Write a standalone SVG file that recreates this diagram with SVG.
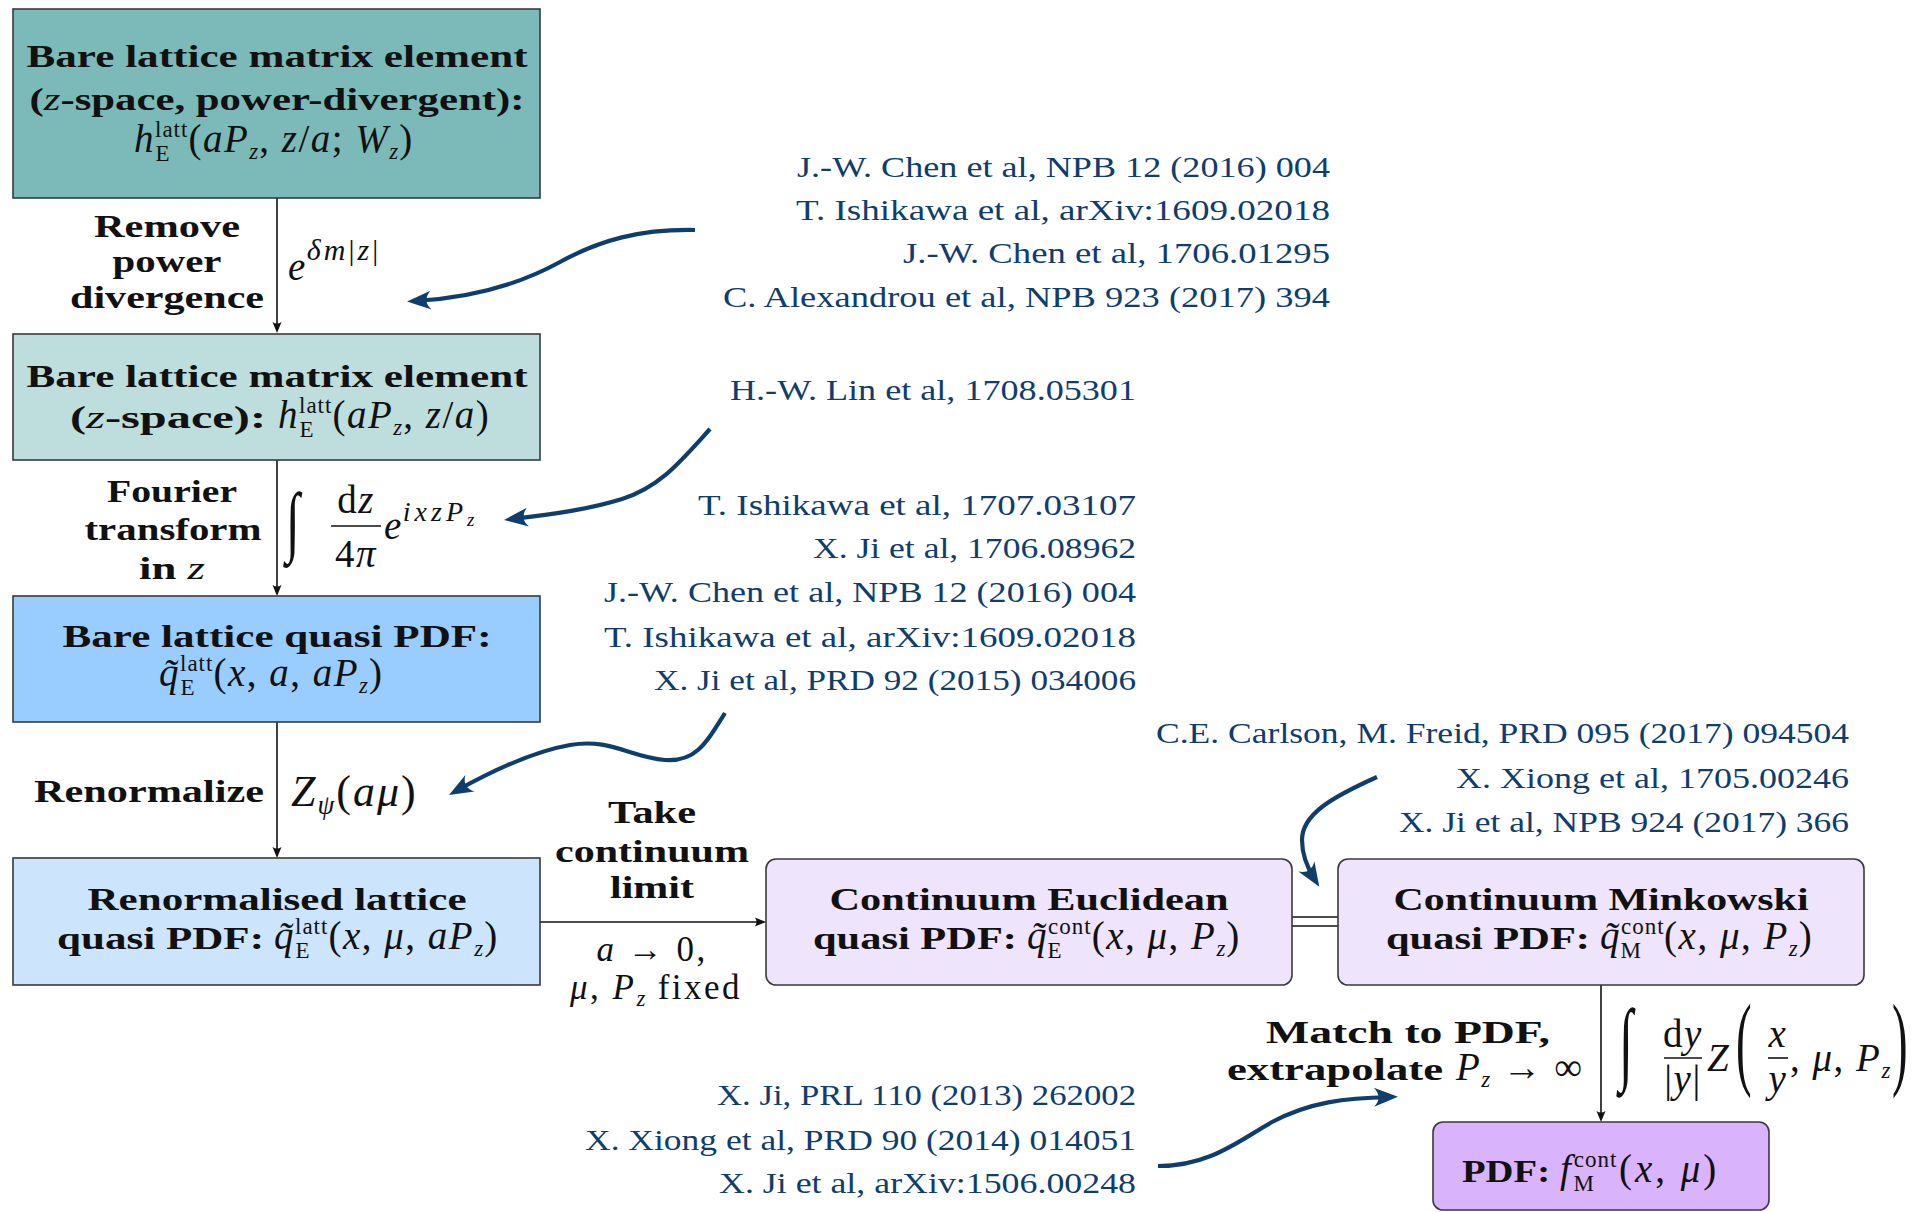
<svg xmlns="http://www.w3.org/2000/svg" width="1915" height="1212" viewBox="0 0 1915 1212">
<style>
  .bx { stroke: #3a3a3a; stroke-width: 1.6; }
  .t { font-family: "Liberation Serif", serif; font-weight: bold; font-size: 32px; fill: #111; }
  .m { font-family: "Liberation Serif", serif; font-size: 39px; fill: #111; letter-spacing: 1.5px; }
  .ml { font-family: "Liberation Serif", serif; font-size: 35px; fill: #111; letter-spacing: 2.5px; }
  .i { font-style: italic; }
  .n { font-weight: normal; font-style: italic; }
  .s { font-size: 23px; letter-spacing: 1px; }
  .ref { font-family: "Liberation Serif", serif; font-size: 30px; fill: #0f3d6c; text-anchor: end; }
  .cv { fill: none; stroke: #0f3d6c; stroke-width: 4.2; marker-end: url(#bh); }
  .ln { stroke: #111; stroke-width: 1.6; fill: none; }
  .ar { marker-end: url(#ah); }
</style>
<defs>
  <marker id="ah" markerUnits="userSpaceOnUse" viewBox="-12 -6 13 12" markerWidth="13" markerHeight="12" refX="-3" refY="0" orient="auto">
    <path d="M0,0 L-11,-4.5 Q-8,0 -11,4.5 Z" fill="#111"/>
  </marker>
  <marker id="bh" markerUnits="userSpaceOnUse" viewBox="-26 -11 27 22" markerWidth="27" markerHeight="22" refX="-8" refY="0" orient="auto">
    <path d="M0,0 L-24,-9.5 Q-15,0 -24,9.5 Z" fill="#0f3d6c"/>
  </marker>
</defs>

<!-- flow connectors -->
<g id="connectors">
  <line class="ln ar" x1="277" y1="198" x2="277" y2="330"/>
  <line class="ln ar" x1="277" y1="460" x2="277" y2="593"/>
  <line class="ln ar" x1="277" y1="722" x2="277" y2="855"/>
  <line class="ln ar" x1="540" y1="922" x2="763" y2="922"/>
  <line class="ln" x1="1292" y1="917" x2="1338" y2="917"/>
  <line class="ln" x1="1292" y1="926" x2="1338" y2="926"/>
  <line class="ln ar" x1="1601" y1="985" x2="1601" y2="1119"/>
</g>

<!-- citation pointers -->
<g id="ref-arrows">
  <path class="cv" d="M695,230 C640,229 600,240 560,262 C520,284 470,298 415,301"/>
  <path class="cv" d="M710,429 C680,462 660,487 622,499 C590,509 555,514 512,519"/>
  <path class="cv" d="M725,713 C705,745 695,762 665,760 C630,757 610,738 570,745 C530,752 490,772 456,791"/>
  <path class="cv" d="M1377,777 C1330,798 1302,815 1302,840 C1302,857 1308,869 1315,880"/>
  <path class="cv" d="M1158,1166 C1210,1166 1240,1140 1272,1122 C1310,1102 1345,1098 1390,1097"/>
</g>

<g id="bare-me-divergent">
  <rect class="bx" x="13" y="9" width="527" height="189" fill="#7bbab8"/>
  <text class="t" x="277" y="67" text-anchor="middle" textLength="501" lengthAdjust="spacingAndGlyphs">Bare lattice matrix element</text>
  <text class="t" x="277" y="110" text-anchor="middle" textLength="495" lengthAdjust="spacingAndGlyphs">(<tspan class="n">z</tspan>-space, power-divergent):</text>
  <text class="m" x="134" y="152"><tspan class="i">h</tspan><tspan class="s" dy="-15">latt</tspan><tspan class="s" dx="-33" dy="24">E</tspan><tspan dx="18" dy="-9">(</tspan><tspan class="i">aP</tspan><tspan class="s i" dy="7">z</tspan><tspan dy="-7">, </tspan><tspan class="i">z</tspan>/<tspan class="i">a</tspan>; <tspan class="i">W</tspan><tspan class="s i" dy="7">z</tspan><tspan dy="-7">)</tspan></text>
</g>

<g id="bare-me">
  <rect class="bx" x="13" y="334" width="527" height="126" fill="#bddedc"/>
  <text class="t" x="277" y="387" text-anchor="middle" textLength="501" lengthAdjust="spacingAndGlyphs">Bare lattice matrix element</text>
  <text class="t" x="70" y="428" textLength="196" lengthAdjust="spacingAndGlyphs">(<tspan class="n">z</tspan>-space):</text>
  <text class="m" x="278" y="428"><tspan class="i">h</tspan><tspan class="s" dy="-15">latt</tspan><tspan class="s" dx="-33" dy="24">E</tspan><tspan dx="18" dy="-9">(</tspan><tspan class="i">aP</tspan><tspan class="s i" dy="7">z</tspan><tspan dy="-7">, </tspan><tspan class="i">z</tspan>/<tspan class="i">a</tspan>)</text>
</g>

<g id="bare-quasi">
  <rect class="bx" x="13" y="596" width="527" height="126" fill="#99ccff"/>
  <text class="t" x="277" y="647" text-anchor="middle" textLength="429" lengthAdjust="spacingAndGlyphs">Bare lattice quasi PDF:</text>
  <text class="m" x="159" y="686"><tspan class="i">q̃</tspan><tspan class="s" dy="-15">latt</tspan><tspan class="s" dx="-33" dy="24">E</tspan><tspan dx="18" dy="-9">(</tspan><tspan class="i">x</tspan>, <tspan class="i">a</tspan>, <tspan class="i">aP</tspan><tspan class="s i" dy="7">z</tspan><tspan dy="-7">)</tspan></text>
</g>

<g id="renorm-quasi">
  <rect class="bx" x="13" y="858" width="527" height="127" fill="#cce5fd"/>
  <text class="t" x="277" y="910" text-anchor="middle" textLength="379" lengthAdjust="spacingAndGlyphs">Renormalised lattice</text>
  <text class="t" x="57" y="949" textLength="207" lengthAdjust="spacingAndGlyphs">quasi PDF:</text>
  <text class="m" x="274" y="949"><tspan class="i">q̃</tspan><tspan class="s" dy="-15">latt</tspan><tspan class="s" dx="-33" dy="24">E</tspan><tspan dx="18" dy="-9">(</tspan><tspan class="i">x</tspan>, <tspan class="i">μ</tspan>, <tspan class="i">aP</tspan><tspan class="s i" dy="7">z</tspan><tspan dy="-7">)</tspan></text>
</g>

<g id="cont-euclid">
  <rect class="bx" x="766" y="859" width="526" height="126" rx="10" fill="#eee4fb"/>
  <text class="t" x="1029" y="910" text-anchor="middle" textLength="399" lengthAdjust="spacingAndGlyphs">Continuum Euclidean</text>
  <text class="t" x="813" y="949" textLength="204" lengthAdjust="spacingAndGlyphs">quasi PDF:</text>
  <text class="m" x="1027" y="949"><tspan class="i">q̃</tspan><tspan class="s" dy="-15">cont</tspan><tspan class="s" dx="-44" dy="24">E</tspan><tspan dx="29" dy="-9">(</tspan><tspan class="i">x</tspan>, <tspan class="i">μ</tspan>, <tspan class="i">P</tspan><tspan class="s i" dy="7">z</tspan><tspan dy="-7">)</tspan></text>
</g>

<g id="cont-minkowski">
  <rect class="bx" x="1338" y="859" width="526" height="126" rx="10" fill="#eee4fb"/>
  <text class="t" x="1601" y="910" text-anchor="middle" textLength="415" lengthAdjust="spacingAndGlyphs">Continuum Minkowski</text>
  <text class="t" x="1386" y="949" textLength="204" lengthAdjust="spacingAndGlyphs">quasi PDF:</text>
  <text class="m" x="1600" y="949"><tspan class="i">q̃</tspan><tspan class="s" dy="-15">cont</tspan><tspan class="s" dx="-44" dy="24">M</tspan><tspan dx="22" dy="-9">(</tspan><tspan class="i">x</tspan>, <tspan class="i">μ</tspan>, <tspan class="i">P</tspan><tspan class="s i" dy="7">z</tspan><tspan dy="-7">)</tspan></text>
</g>

<g id="pdf">
  <rect class="bx" x="1433" y="1122" width="336" height="88" rx="10" fill="#d9b3fb"/>
  <text class="t" x="1462" y="1182" textLength="88" lengthAdjust="spacingAndGlyphs">PDF:</text>
  <text class="m" x="1560" y="1182" style="letter-spacing:3px"><tspan class="i">f</tspan><tspan class="s" dy="-15">cont</tspan><tspan class="s" dx="-44" dy="24">M</tspan><tspan dx="24" dy="-9">(</tspan><tspan class="i">x</tspan>, <tspan class="i">μ</tspan>)</text>
</g>

<!-- step labels -->
<g id="labels">
  <text class="t" x="167" y="237" text-anchor="middle" textLength="146" lengthAdjust="spacingAndGlyphs">Remove</text>
  <text class="t" x="167" y="272" text-anchor="middle" textLength="109" lengthAdjust="spacingAndGlyphs">power</text>
  <text class="t" x="167" y="308" text-anchor="middle" textLength="194" lengthAdjust="spacingAndGlyphs">divergence</text>
  <text class="m" x="288" y="280"><tspan class="i">e</tspan><tspan font-size="30" letter-spacing="3" dy="-20"><tspan class="i">δm</tspan>|<tspan class="i">z</tspan>|</tspan></text>

  <text class="t" x="172" y="502" text-anchor="middle" textLength="130" lengthAdjust="spacingAndGlyphs">Fourier</text>
  <text class="t" x="173" y="540" text-anchor="middle" textLength="177" lengthAdjust="spacingAndGlyphs">transform</text>
  <text class="t" x="139" y="579" textLength="66" lengthAdjust="spacingAndGlyphs">in <tspan class="n">z</tspan></text>
  <text class="m" transform="translate(286,547) scale(1.3,2)">∫</text>
  <text class="m" x="356" y="513" text-anchor="middle">d<tspan class="i">z</tspan></text>
  <line class="ln" x1="331" y1="526" x2="381" y2="526"/>
  <text class="m" x="356" y="567" text-anchor="middle">4<tspan class="i">π</tspan></text>
  <text class="m" x="384" y="539"><tspan class="i">e</tspan><tspan class="i" font-size="28" letter-spacing="4" dy="-18">ixzP</tspan><tspan class="i" font-size="19" dy="5">z</tspan></text>

  <text class="t" x="34" y="802" textLength="230" lengthAdjust="spacingAndGlyphs">Renormalize</text>
  <text class="m" x="291" y="806" style="font-size:44px;letter-spacing:2px"><tspan class="i">Z</tspan><tspan class="i" font-size="27" dy="8">ψ</tspan><tspan dy="-8">(</tspan><tspan class="i">aμ</tspan>)</text>

  <text class="t" x="652" y="823" text-anchor="middle" textLength="88" lengthAdjust="spacingAndGlyphs">Take</text>
  <text class="t" x="652" y="862" text-anchor="middle" textLength="194" lengthAdjust="spacingAndGlyphs">continuum</text>
  <text class="t" x="652" y="898" text-anchor="middle" textLength="84" lengthAdjust="spacingAndGlyphs">limit</text>
  <text class="ml" x="652" y="961" text-anchor="middle"><tspan class="i">a</tspan> → 0,</text>
  <text class="ml" x="570" y="999"><tspan class="i">μ</tspan>, <tspan class="i">P</tspan><tspan class="s i" dy="7">z</tspan><tspan dy="-7"> fixed</tspan></text>

  <text class="t" x="1408" y="1043" text-anchor="middle" textLength="284" lengthAdjust="spacingAndGlyphs">Match to PDF,</text>
  <text class="t" x="1227" y="1080" textLength="216" lengthAdjust="spacingAndGlyphs">extrapolate</text>
  <text class="m" x="1456" y="1080"><tspan class="i">P</tspan><tspan class="s i" dy="7">z</tspan><tspan dy="-7"> → ∞</tspan></text>

  <text class="m" transform="translate(1619,1073) scale(1.3,2.36)">∫</text>
  <text class="m" x="1683" y="1047" text-anchor="middle">d<tspan class="i">y</tspan></text>
  <line class="ln" x1="1664" y1="1058" x2="1702" y2="1058"/>
  <text class="m" x="1683" y="1092" text-anchor="middle">|<tspan class="i">y</tspan>|</text>
  <text class="m i" x="1707" y="1071">Z</text>
  <text class="m" transform="translate(1736,1076) scale(1.2,2.67)">(</text>
  <text class="m i" x="1778" y="1047" text-anchor="middle">x</text>
  <line class="ln" x1="1768" y1="1058" x2="1788" y2="1058"/>
  <text class="m i" x="1778" y="1092" text-anchor="middle">y</text>
  <text class="m" x="1790" y="1071">, <tspan class="i">μ</tspan>, <tspan class="i">P</tspan><tspan class="s i" dy="7">z</tspan></text>
  <text class="m" transform="translate(1892,1076) scale(1.2,2.67)">)</text>
</g>

<!-- literature references -->
<g id="refs-divergence">
  <text class="ref" x="1330" y="177" textLength="533" lengthAdjust="spacingAndGlyphs">J.-W. Chen et al, NPB 12 (2016) 004</text>
  <text class="ref" x="1330" y="220" textLength="534" lengthAdjust="spacingAndGlyphs">T. Ishikawa et al, arXiv:1609.02018</text>
  <text class="ref" x="1330" y="263" textLength="427" lengthAdjust="spacingAndGlyphs">J.-W. Chen et al, 1706.01295</text>
  <text class="ref" x="1330" y="307" textLength="607" lengthAdjust="spacingAndGlyphs">C. Alexandrou et al, NPB 923 (2017) 394</text>
</g>
<g id="refs-fourier">
  <text class="ref" x="1136" y="400" textLength="406" lengthAdjust="spacingAndGlyphs">H.-W. Lin et al, 1708.05301</text>
</g>
<g id="refs-renorm">
  <text class="ref" x="1136" y="515" textLength="438" lengthAdjust="spacingAndGlyphs">T. Ishikawa et al, 1707.03107</text>
  <text class="ref" x="1136" y="558" textLength="323" lengthAdjust="spacingAndGlyphs">X. Ji et al, 1706.08962</text>
  <text class="ref" x="1136" y="602" textLength="532" lengthAdjust="spacingAndGlyphs">J.-W. Chen et al, NPB 12 (2016) 004</text>
  <text class="ref" x="1136" y="647" textLength="532" lengthAdjust="spacingAndGlyphs">T. Ishikawa et al, arXiv:1609.02018</text>
  <text class="ref" x="1136" y="690" textLength="482" lengthAdjust="spacingAndGlyphs">X. Ji et al, PRD 92 (2015) 034006</text>
</g>
<g id="refs-minkowski">
  <text class="ref" x="1849" y="743" textLength="693" lengthAdjust="spacingAndGlyphs">C.E. Carlson, M. Freid, PRD 095 (2017) 094504</text>
  <text class="ref" x="1849" y="788" textLength="393" lengthAdjust="spacingAndGlyphs">X. Xiong et al, 1705.00246</text>
  <text class="ref" x="1849" y="832" textLength="450" lengthAdjust="spacingAndGlyphs">X. Ji et al, NPB 924 (2017) 366</text>
</g>
<g id="refs-matching">
  <text class="ref" x="1136" y="1105" textLength="419" lengthAdjust="spacingAndGlyphs">X. Ji, PRL 110 (2013) 262002</text>
  <text class="ref" x="1136" y="1150" textLength="551" lengthAdjust="spacingAndGlyphs">X. Xiong et al, PRD 90 (2014) 014051</text>
  <text class="ref" x="1136" y="1193" textLength="417" lengthAdjust="spacingAndGlyphs">X. Ji et al, arXiv:1506.00248</text>
</g>
</svg>
